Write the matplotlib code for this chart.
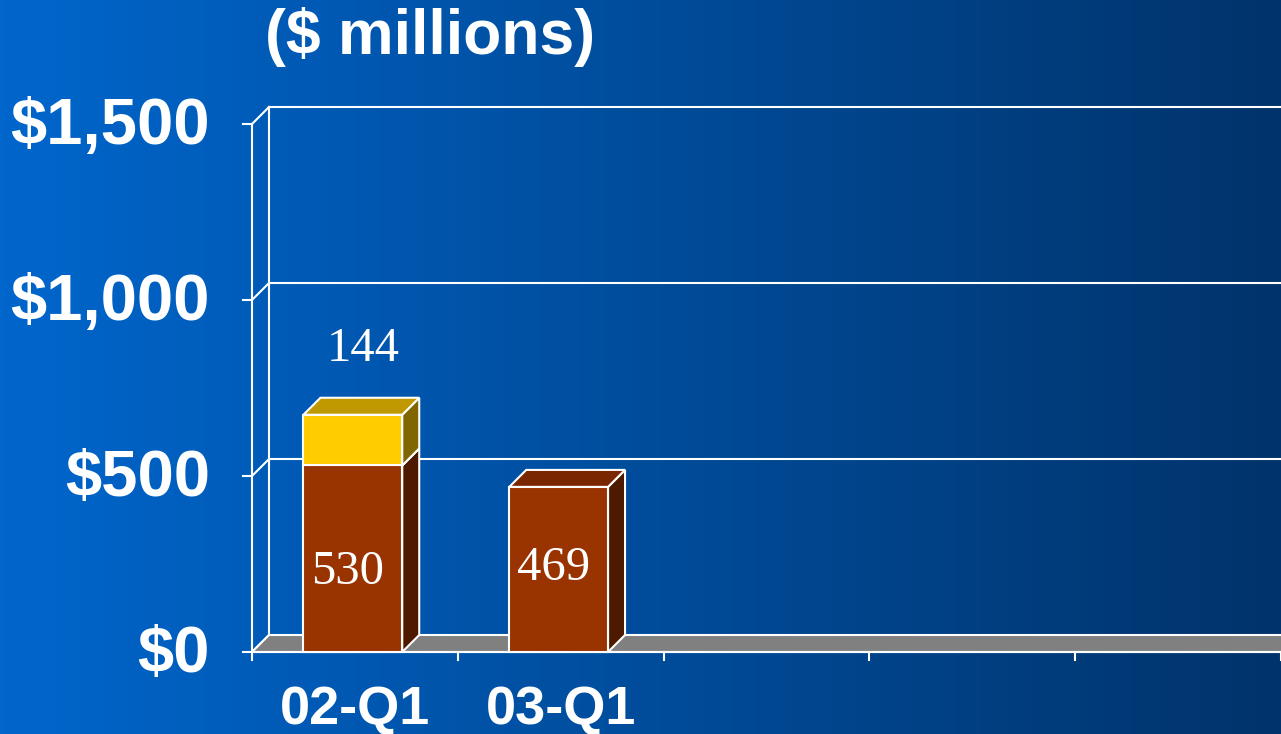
import matplotlib
matplotlib.use("Agg")
import matplotlib.pyplot as plt
import numpy as np
from matplotlib.patches import Polygon, Rectangle

# data
categories = ["02-Q1", "03-Q1", "", "", ""]
base_vals = [530, 469]
top_vals = [144, 0]
y_ticks = [0, 500, 1000, 1500]
y_labels = ["$0", "$500", "$1,000", "$1,500"]

W, H = 1281, 734
fig = plt.figure(figsize=(W / 100, H / 100), dpi=100)
ax = fig.add_axes([0, 0, 1, 1])
ax.axis("off")

# pixel mapping: x category unit = 205.8 px, 0 at px 252; value 1 = 0.352 px, 0 at py 652
cat_px = 205.8
val_px = 0.352
x0_px, y0_px = 252, 652
ax.set_xlim(-x0_px / cat_px, (W - x0_px) / cat_px)
ax.set_ylim(-(H - y0_px) / val_px, y0_px / val_px)

# depth offset for the pseudo 3d look
ddx = 17.0 / cat_px
ddy = 17.0 / val_px

# background gradient
grad = np.linspace(0, 1, 256).reshape(1, -1)
c_left = np.array([0.0, 0.40, 0.80])
c_right = np.array([0.0, 0.20, 0.42])
img = c_left[None, None, :] * (1 - grad[..., None]) + c_right[None, None, :] * grad[..., None]
xl, yl = ax.get_xlim(), ax.get_ylim()
ax.imshow(img, extent=[xl[0], xl[1], yl[0], yl[1]], aspect="auto", zorder=0)

n = len(categories)
lw = 1.5

# floor
floor = Polygon([(0, 0), (n + 1, 0), (n + 1 + ddx, ddy), (ddx, ddy)],
                closed=True, facecolor="#808080", edgecolor="white", lw=lw, zorder=2)
ax.add_patch(floor)

# back wall gridlines and left wall
for v in y_ticks[1:]:
    ax.plot([ddx, n + 1], [v + ddy, v + ddy], color="white", lw=lw, zorder=1)
for v in y_ticks:
    ax.plot([0, ddx], [v, v + ddy], color="white", lw=lw, zorder=1)
ax.plot([ddx, ddx], [ddy, y_ticks[-1] + ddy], color="white", lw=lw, zorder=1)

# front axes
ax.plot([0, 0], [0, y_ticks[-1]], color="white", lw=lw, zorder=3)
ax.plot([0, n + 1], [0, 0], color="white", lw=lw, zorder=3)
for v in y_ticks:
    ax.plot([-9 / cat_px, 0], [v, v], color="white", lw=lw, zorder=3)
for i in range(n + 1):
    ax.plot([i, i], [0, -8 / val_px], color="white", lw=lw, zorder=3)


def bar3d(xc, bottom, height, front, top, side, z):
    w = 0.48
    xa, xb = xc - w / 2, xc + w / 2
    yb, yt = bottom, bottom + height
    ax.add_patch(Polygon([(xb, yb), (xb + ddx, yb + ddy), (xb + ddx, yt + ddy), (xb, yt)],
                         closed=True, facecolor=side, edgecolor="white", lw=lw, zorder=z))
    ax.add_patch(Polygon([(xa, yt), (xb, yt), (xb + ddx, yt + ddy), (xa + ddx, yt + ddy)],
                         closed=True, facecolor=top, edgecolor="white", lw=lw, zorder=z))
    ax.add_patch(Rectangle((xa, yb), w, height, facecolor=front, edgecolor="white",
                           lw=lw, zorder=z + 0.1))


for i, (b, t) in enumerate(zip(base_vals, top_vals)):
    xc = i + 0.49
    bar3d(xc, 0, b, "#993300", "#7a2600", "#4d1a00", 4)
    if t > 0:
        bar3d(xc, b, t, "#ffcc00", "#c09900", "#806600", 5)

# value labels
serif = ["Liberation Serif", "DejaVu Serif"]
for i, (b, t) in enumerate(zip(base_vals, top_vals)):
    xc = i + 0.49
    ax.text(xc - 0.025, 226 + 12 * i, str(b), color="white", fontsize=35, family=serif,
            ha="center", va="center", zorder=10)
    if t > 0:
        ax.text(xc + 0.05, b + t + 186, str(t), color="white", fontsize=35, family=serif,
                ha="center", va="center", zorder=10)

sans = ["Liberation Sans", "DejaVu Sans"]
for v, lab in zip(y_ticks, y_labels):
    ax.text(-42 / cat_px, v - 8, lab, color="white", fontsize=47, fontweight="bold",
            family=sans, ha="right", va="center", zorder=10)
for i, lab in enumerate(categories):
    if lab:
        ax.text(i + 0.5, -58 / val_px, lab, color="white", fontsize=39,
                fontweight="bold", family=sans, ha="center", va="center", zorder=10)

ax.text(13 / cat_px, (y0_px - 37) / val_px, "($ millions)", color="white", fontsize=45,
        fontweight="bold", family=sans, ha="left", va="center", zorder=10)

fig.savefig("out.png", dpi=100)
